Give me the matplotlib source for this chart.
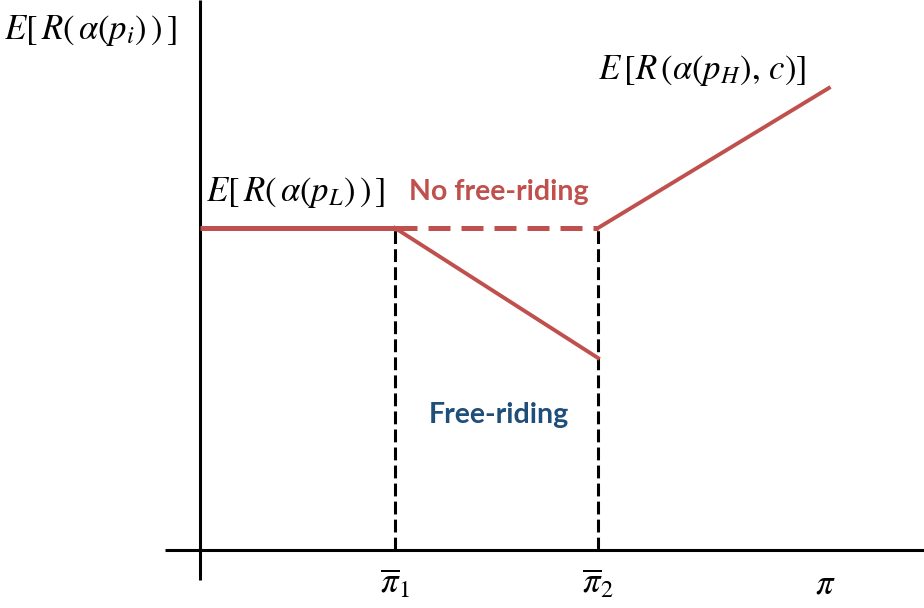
import matplotlib.pyplot as plt

# schematic values (x in units of pi, y in arbitrary payoff units)
pi_bar = [0.98, 2.0]         # thresholds pi_1, pi_2
pi_end = 3.16
level_L = 3.22               # E[R(alpha(p_L))]
free_ride_low = 1.92         # payoff at pi_2 under free-riding
level_H_end = 4.62           # E[R(alpha(p_H), c)] at pi_end

red = '#C0504D'
blue = '#1F4E79'

plt.rcParams['mathtext.fontset'] = 'stix'

fig = plt.figure(figsize=(9.24, 6.08), dpi=100)
ax = fig.add_axes([0, 0, 1, 1])
ax.set_xlim(-1.005, 3.638)
ax.set_ylim(-0.58, 5.5)
ax.axis('off')

# axes lines
ax.plot([0, 0], [-0.30, 5.5], color='black', lw=2.2, solid_capstyle='butt')
ax.plot([-0.175, 3.638], [0, 0], color='black', lw=2.2, solid_capstyle='butt')

# red payoff lines
ax.plot([0, pi_bar[0]], [level_L, level_L], color=red, lw=3.6, solid_capstyle='butt')
ax.plot([pi_bar[0], pi_bar[1]], [level_L, level_L], color=red, lw=3.6,
        dashes=(4.4, 2.2), dash_capstyle='butt')
ax.plot([pi_bar[0], pi_bar[1]], [level_L, free_ride_low], color=red, lw=2.8)
ax.plot([pi_bar[1], pi_end], [level_L, level_H_end], color=red, lw=2.8)

# dashed verticals
for p in pi_bar:
    ax.plot([p, p], [0, level_L], color='black', lw=2.2, dashes=(4.2, 1.7), zorder=1)

# labels
ax.text(-0.985, 5.2, r'$E\left[\,R\left(\,\alpha(p_i)\,\right)\,\right]$', fontsize=25,
        ha='left', va='center')
ax.text(0.03, 3.58, r'$E\left[\,R\left(\,\alpha(p_L)\,\right)\,\right]$', fontsize=25,
        ha='left', va='center')
ax.text(2.0, 4.8, r'$E\,[R\,(\alpha(p_H),\,c)]$', fontsize=25, ha='left', va='center')
ax.text(1.5, 3.58, 'No free-riding', color=red, fontsize=20.5, fontweight='bold',
        family='Lato', ha='center', va='center')
ax.text(1.5, 1.35, 'Free-riding', color=blue, fontsize=20.5, fontweight='bold',
        family='Lato', ha='center', va='center')

ax.text(pi_bar[0], -0.33, r'$\overline{\pi}_1$', fontsize=25, ha='center', va='center')
ax.text(pi_bar[1], -0.33, r'$\overline{\pi}_2$', fontsize=25, ha='center', va='center')
ax.text(3.14, -0.33, r'$\pi$', fontsize=25, ha='center', va='center')

fig.savefig('out.png', dpi=100)
